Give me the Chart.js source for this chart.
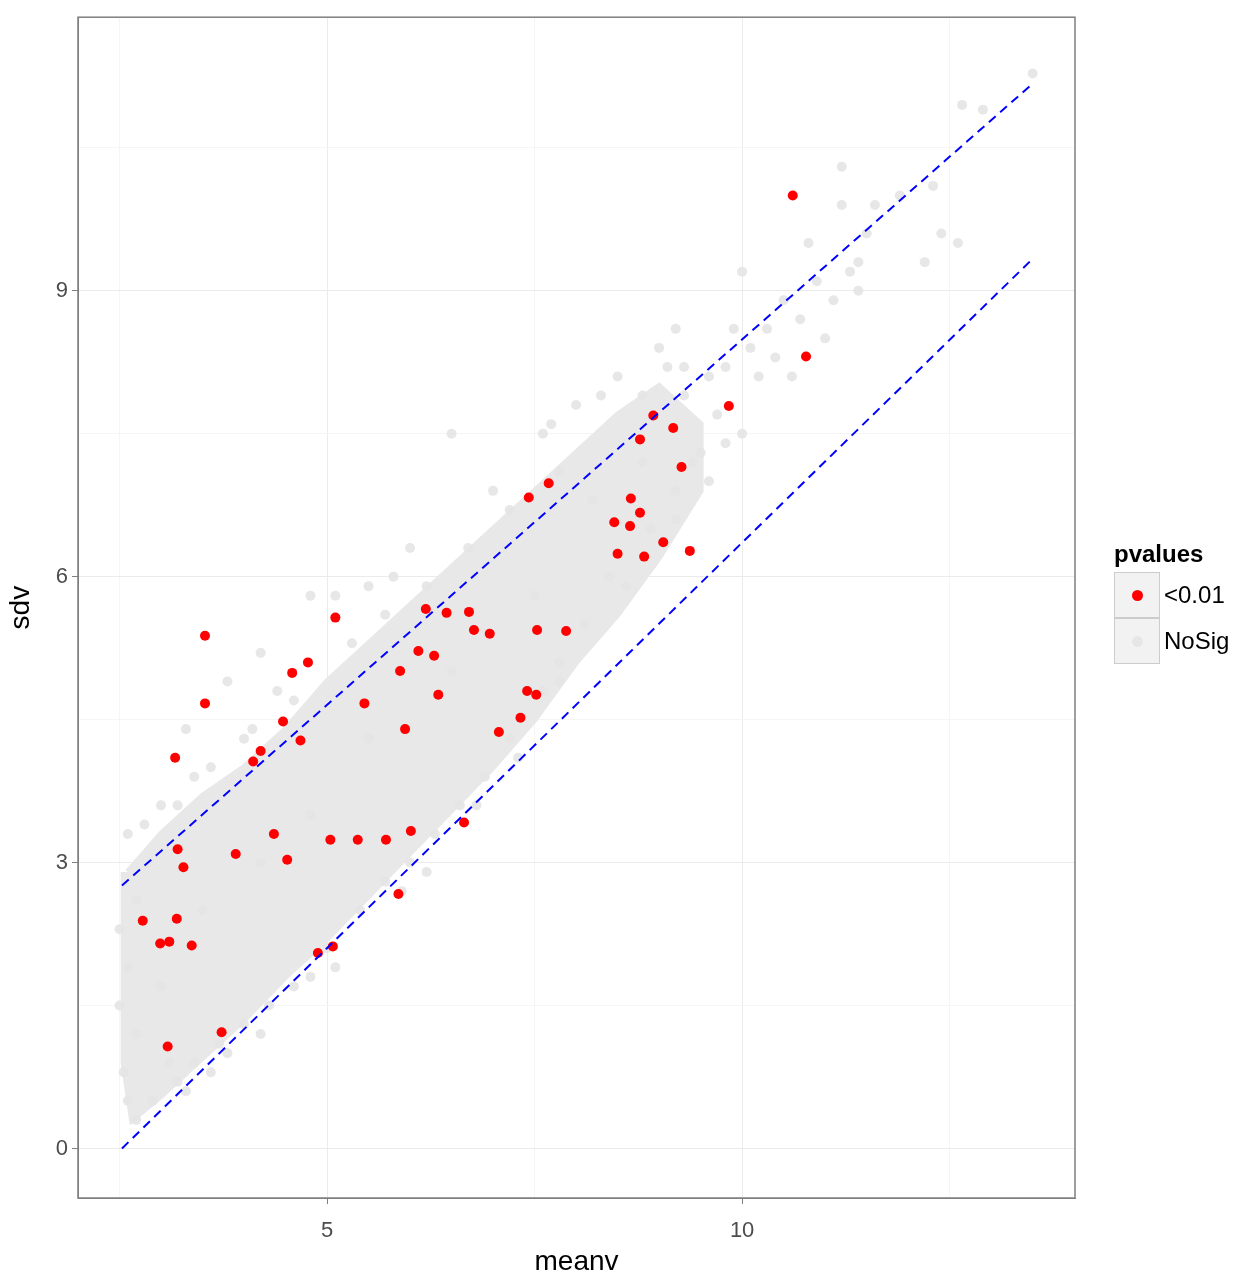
<!DOCTYPE html>
<html><head><meta charset="utf-8">
<script src="https://cdn.jsdelivr.net/npm/chart.js@4.4.0/dist/chart.umd.min.js"></script>
<style>
body{margin:0;background:#fff;font-family:"Liberation Sans",Arial,sans-serif}
#wrap{position:relative;width:1248px;height:1283px}
#legend{position:absolute;left:1114px;top:540px;font-size:24px;color:#000}
#legend .t{font-weight:bold;margin-bottom:4px}
.row{display:flex;align-items:center;height:46px}
.key{width:46px;height:46px;border:1px solid #ccc;box-sizing:border-box;background:#f2f2f2;display:flex;align-items:center;justify-content:center;margin-right:4px}
.key span{width:11px;height:11px;border-radius:50%}
</style></head><body>
<div id="wrap"><canvas id="c" width="1248" height="1283"></canvas>
<div id="legend"><div class="t">pvalues</div>
<div class="row"><div class="key"><span style="background:#ff0000"></span></div>&lt;0.01</div>
<div class="row"><div class="key"><span style="background:#e6e6e6"></span></div>NoSig</div>
</div></div>
<script>
const xTicks = [2.5, 5, 7.5, 10, 12.5];
const yTicks = [0, 1.5, 3, 4.5, 6, 7.5, 9, 10.5];
const upperLine = [[2.53, 2.76], [13.47, 11.15]];
const lowerLine = [[2.53, 0], [13.47, 9.31]];
const coreBand = [[2.6,2.9],[3,3.3],[3.5,3.7],[4,4.0],[4.5,4.4],[5,4.9],[5.5,5.3],[6,5.7],[6.5,6.1],[7,6.5],[7.5,6.9],[8,7.3],[8.5,7.7],[9,8.0],[9.5,7.6],
  [9.5,6.9],[9,6.2],[8.5,5.6],[8,5.1],[7.5,4.5],[7,4.0],[6.5,3.55],[6,3.1],[5.5,2.65],[5,2.2],[4.5,1.8],[4,1.35],[3.5,0.95],[3,0.55],[2.65,0.3],[2.55,0.9],[2.55,2.9]];
const noSig = [[13.5,11.28],[12.65,10.95],[12.9,10.9],[11.2,10.3],[11.2,9.9],[11.6,9.9],[11.9,10.0],[12.3,10.1],[12.4,9.6],[12.2,9.3],[12.6,9.5],[11.4,9.3],[11.4,9.0],[11.1,8.9],[10.9,9.1],[10.7,8.7],[10.5,8.9],[10.3,8.6],[10.1,8.4],[10.0,9.2],[10.2,8.1],[9.9,8.6],[9.8,8.2],[9.6,8.1],[9.7,7.7],[9.5,7.3],[9.3,8.2],[9.2,8.6],[9.1,8.2],[10.0,7.5],[9.6,7.0],[9.8,7.4],[10.4,8.3],[10.6,8.1],[11.0,8.5],[11.5,9.6],[10.8,9.5],[11.3,9.2],
  [6.5,7.5],[5.1,5.8],[4.8,5.8],[4.2,5.2],[3.8,4.9],[3.3,4.4],[3.0,3.6],[2.6,3.3],[2.5,2.3],[2.5,1.5],[2.55,0.8],[2.6,0.5],[2.7,0.3],[3.3,0.6],[3.6,0.8],[5.5,5.9],[6.0,6.3],[7.0,6.9],[7.6,7.5],[8.0,7.8],[8.5,8.1],[9.0,8.4],[3.0,1.7],[3.5,2.5],[4.2,3.0],[4.8,3.5],[5.5,4.3],[6.5,5.0],[7.5,5.8],[8.2,6.8],[8.8,7.2],[4.0,4.3],[3.6,4.0],[4.4,4.8],[5.8,6.0],[7.7,7.6],[8.3,7.9],[3.1,0.9],[4.2,1.2],[5.1,1.9],[6.2,2.9],[6.8,3.6],[7.8,4.9],[8.6,5.9],[9.2,6.6],[3.8,1.0],[4.8,1.8],[5.9,2.7],[7.3,4.1],
  [2.8,3.4],[3.2,3.6],[3.4,3.9],[4.1,4.4],[4.6,4.7],[5.3,5.3],[5.7,5.6],[6.2,5.9],[6.7,6.3],[7.2,6.7],[7.8,7.1],[8.8,7.9],[9.3,7.9],[9.4,7.2],[9.2,6.9],[8.9,6.5],[8.4,6.0],[8.1,5.5],[7.8,5.1],[7.6,4.8],[7.2,4.3],[6.9,3.9],[6.6,3.6],[6.3,3.3],[6.0,3.0],[5.7,2.8],[5.4,2.5],[5.0,2.1],[4.6,1.7],[4.3,1.5],[4.0,1.3],[3.7,1.1],[3.4,0.9],[3.2,0.7],[2.9,0.5],[2.7,1.2],[2.6,1.9],[2.7,2.6]];
const sig = [[10.61,10.0],[10.77,8.31],[9.84,7.79],[8.93,7.69],[8.77,7.44],[9.17,7.56],[9.27,7.15],[7.67,6.98],[7.43,6.83],[8.66,6.82],[8.77,6.67],[8.65,6.53],[8.46,6.57],[9.05,6.36],[8.82,6.21],[9.37,6.27],[8.5,6.24],[5.1,5.57],[3.53,5.38],[6.19,5.66],[6.71,5.63],[4.77,5.10],[4.58,4.99],[3.53,4.67],[5.45,4.67],[6.1,5.22],[6.29,5.17],[5.88,5.01],[6.77,5.44],[6.96,5.40],[7.53,5.44],[7.88,5.43],[6.34,4.76],[7.52,4.76],[7.41,4.80],[5.94,4.40],[7.07,4.37],[4.47,4.48],[4.68,4.28],[4.2,4.17],[4.11,4.06],[3.17,4.10],[7.33,4.52],[3.2,3.14],[3.9,3.09],[6.01,3.33],[5.71,3.24],[5.37,3.24],[5.04,3.24],[6.65,3.42],[5.86,2.67],[4.52,3.03],[3.37,2.13],[2.99,2.15],[3.1,2.17],[5.07,2.12],[4.89,2.05],[3.73,1.22],[3.08,1.07],[2.78,2.39],[3.19,2.41],[3.27,2.95],[4.36,3.30],[6.44,5.62]];

const pts = a => a.map(([x, y]) => ({x, y}));
const txt = '#4d4d4d';
new Chart(document.getElementById('c'), {
  type: 'scatter',
  data: { datasets: [
    { type: 'line', order: 10, data: pts(coreBand), fill: 'shape', backgroundColor: '#e8e8e8', borderColor: '#e8e8e8', borderWidth: 6, pointRadius: 0, tension: 0 },
    { order: 5, data: pts(noSig), backgroundColor: 'rgba(228,228,228,0.9)', borderWidth: 0, pointRadius: 5 },
    { order: 2, data: pts(sig), backgroundColor: '#ff0000', borderWidth: 0, pointRadius: 5 },
    { type: 'line', order: 1, data: pts(upperLine), borderColor: '#0000ff', borderWidth: 2, borderDash: [9, 6], pointRadius: 0, fill: false },
    { type: 'line', order: 1, data: pts(lowerLine), borderColor: '#0000ff', borderWidth: 2, borderDash: [9, 6], pointRadius: 0, fill: false }
  ]},
  options: {
    responsive: false, animation: false,
    layout: { padding: { top: 0, right: 173, left: 0, bottom: 0 } },
    plugins: { legend: { display: false }, tooltip: { enabled: false } },
    scales: {
      x: { min: 2.0, max: 14.01,
        afterBuildTicks: s => { s.ticks = xTicks.map(v => ({value: v})); },
        afterFit: s => { s.height = 85; },
        grid: { color: c => c.tick && c.tick.value % 5 === 0 ? '#ebebeb' : '#f5f5f5',
          tickColor: c => c.tick && c.tick.value % 5 === 0 ? '#7f7f7f' : 'rgba(0,0,0,0)', tickLength: 6 },
        border: { color: '#7f7f7f' },
        ticks: { color: txt, font: { size: 22 }, padding: 14, autoSkip: false, maxRotation: 0,
          callback: v => v % 5 === 0 ? String(v) : '' },
        title: { display: true, text: 'meanv', color: '#000', font: { size: 28 }, padding: { top: -6 } } },
      y: { min: -0.52, max: 11.87,
        afterBuildTicks: s => { s.ticks = yTicks.map(v => ({value: v})); },
        afterFit: s => { s.width = 78; },
        grid: { color: c => c.tick && c.tick.value % 3 === 0 ? '#ebebeb' : '#f5f5f5',
          tickColor: c => c.tick && c.tick.value % 3 === 0 ? '#7f7f7f' : 'rgba(0,0,0,0)', tickLength: 6 },
        border: { color: '#7f7f7f' },
        ticks: { color: txt, font: { size: 22 }, padding: 4, autoSkip: false,
          callback: v => v % 3 === 0 ? String(v) : '' },
        title: { display: true, text: 'sdv', color: '#000', font: { size: 28 }, padding: { bottom: 4 } } }
    }
  },
  plugins: [{ id: 'frame', afterDraw(ch) {
    const a = ch.chartArea, g = ch.ctx;
    g.save(); g.strokeStyle = '#7f7f7f'; g.lineWidth = 1.5;
    g.strokeRect(a.left, a.top, a.right - a.left, a.bottom - a.top); g.restore();
  }}]
});
</script></body></html>
